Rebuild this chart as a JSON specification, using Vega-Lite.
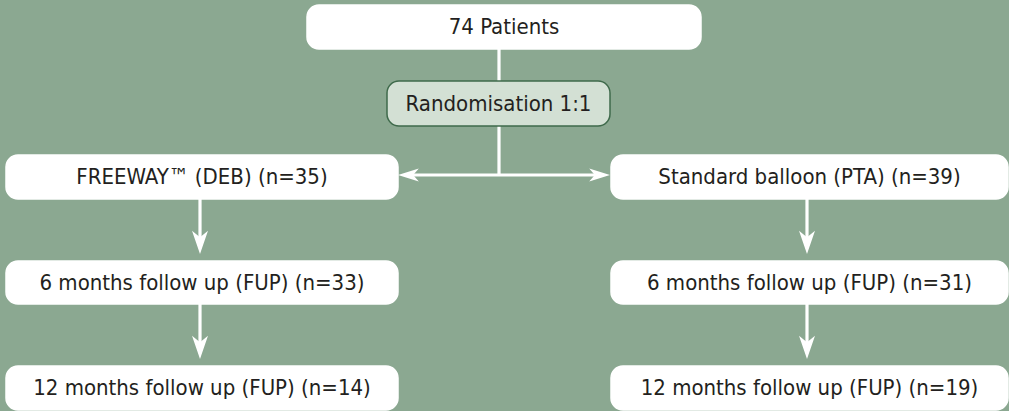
{
  "$schema": "https://vega.github.io/schema/vega-lite/v6.json",
  "width": 1009,
  "height": 411,
  "autosize": {"type": "fit", "contains": "padding"},
  "padding": 0,
  "background": "#8ba891",
  "config": {"view": {"stroke": null}},
  "datasets": {
    "boxes": [
      {"id": "patients", "label": "74 Patients", "kind": "main", "x": 307, "x2": 701, "y": 5, "y2": 49, "cx": 504, "cy": 27},
      {"id": "rand", "label": "Randomisation 1:1", "kind": "rand", "x": 387, "x2": 610, "y": 81, "y2": 126, "cx": 498.5, "cy": 103.5},
      {"id": "deb", "label": "FREEWAY™ (DEB) (n=35)", "kind": "main", "x": 6, "x2": 398, "y": 155, "y2": 199, "cx": 202, "cy": 177},
      {"id": "pta", "label": "Standard balloon (PTA) (n=39)", "kind": "main", "x": 611, "x2": 1008, "y": 155, "y2": 199, "cx": 809.5, "cy": 177},
      {"id": "deb6", "label": "6 months follow up (FUP) (n=33)", "kind": "main", "x": 6, "x2": 398, "y": 261, "y2": 304, "cx": 202, "cy": 282.5},
      {"id": "pta6", "label": "6 months follow up (FUP) (n=31)", "kind": "main", "x": 611, "x2": 1008, "y": 261, "y2": 304, "cx": 809.5, "cy": 282.5},
      {"id": "deb12", "label": "12 months follow up (FUP) (n=14)", "kind": "main", "x": 6, "x2": 398, "y": 366, "y2": 410, "cx": 202, "cy": 388},
      {"id": "pta12", "label": "12 months follow up (FUP) (n=19)", "kind": "main", "x": 611, "x2": 1008, "y": 366, "y2": 410, "cx": 809.5, "cy": 388}
    ],
    "links": [
      {"x": 499, "x2": 499, "y": 49, "y2": 81},
      {"x": 499, "x2": 499, "y": 126, "y2": 175},
      {"x": 410, "x2": 598, "y": 175, "y2": 175},
      {"x": 200, "x2": 200, "y": 199, "y2": 240},
      {"x": 200, "x2": 200, "y": 304, "y2": 345},
      {"x": 807, "x2": 807, "y": 199, "y2": 240},
      {"x": 807, "x2": 807, "y": 304, "y2": 345}
    ],
    "arrows": [
      {"dir": "left", "x": 398, "y": 175},
      {"dir": "right", "x": 610, "y": 175},
      {"dir": "down", "x": 200, "y": 254},
      {"dir": "down", "x": 200, "y": 359},
      {"dir": "down", "x": 807, "y": 254},
      {"dir": "down", "x": 807, "y": 359}
    ]
  },
  "layer": [
    {
      "data": {"name": "links"},
      "mark": {"type": "rule", "color": "white", "strokeWidth": 3.2},
      "encoding": {
        "x": {"field": "x", "type": "quantitative", "scale": {"domain": [0, 1009], "nice": false, "zero": false}, "axis": null},
        "x2": {"field": "x2"},
        "y": {"field": "y", "type": "quantitative", "scale": {"domain": [0, 411], "reverse": true, "nice": false, "zero": false}, "axis": null},
        "y2": {"field": "y2"}
      }
    },
    {
      "data": {"name": "arrows"},
      "transform": [{"filter": "datum.dir === 'down'"}],
      "mark": {"type": "point", "filled": true, "color": "white", "opacity": 1, "size": 256, "shape": "M0,0 L-1,-2.9 L0,-2.1 L1,-2.9 Z"},
      "encoding": {
        "x": {"field": "x", "type": "quantitative"},
        "y": {"field": "y", "type": "quantitative"}
      }
    },
    {
      "data": {"name": "arrows"},
      "transform": [{"filter": "datum.dir === 'left'"}],
      "mark": {"type": "point", "filled": true, "color": "white", "opacity": 1, "size": 256, "shape": "M0,0 L2.6,-0.8 L1.9,0 L2.6,0.8 Z"},
      "encoding": {
        "x": {"field": "x", "type": "quantitative"},
        "y": {"field": "y", "type": "quantitative"}
      }
    },
    {
      "data": {"name": "arrows"},
      "transform": [{"filter": "datum.dir === 'right'"}],
      "mark": {"type": "point", "filled": true, "color": "white", "opacity": 1, "size": 256, "shape": "M0,0 L-2.6,-0.8 L-1.9,0 L-2.6,0.8 Z"},
      "encoding": {
        "x": {"field": "x", "type": "quantitative"},
        "y": {"field": "y", "type": "quantitative"}
      }
    },
    {
      "data": {"name": "boxes"},
      "mark": {"type": "rect", "cornerRadius": 12},
      "encoding": {
        "x": {"field": "x", "type": "quantitative"},
        "x2": {"field": "x2"},
        "y": {"field": "y", "type": "quantitative"},
        "y2": {"field": "y2"},
        "fill": {"field": "kind", "type": "nominal", "scale": {"domain": ["main", "rand"], "range": ["#ffffff", "#d3e0d4"]}, "legend": null},
        "stroke": {"field": "kind", "type": "nominal", "scale": {"domain": ["main", "rand"], "range": ["#ffffff", "#3f6a4b"]}, "legend": null},
        "strokeWidth": {"value": 1.5}
      }
    },
    {
      "data": {"name": "boxes"},
      "mark": {"type": "text", "font": "DejaVu Sans Condensed, sans-serif", "fontSize": 22, "color": "#231f20", "align": "center", "baseline": "middle"},
      "encoding": {
        "x": {"field": "cx", "type": "quantitative"},
        "y": {"field": "cy", "type": "quantitative"},
        "text": {"field": "label", "type": "nominal"}
      }
    }
  ]
}
